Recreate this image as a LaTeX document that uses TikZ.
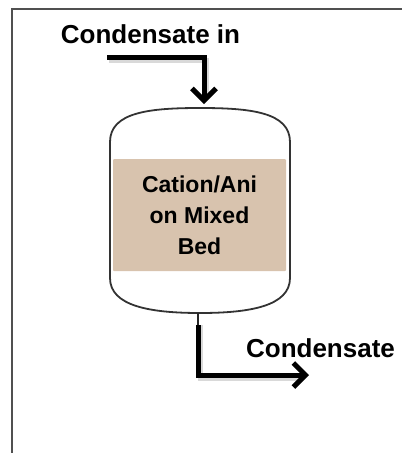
\documentclass[tikz,border=0pt]{standalone}
\usepackage{fontspec}
\setmainfont{Liberation Sans}
\usetikzlibrary{arrows.meta,calc}
\definecolor{bedtan}{RGB}{216,195,174}
\definecolor{framegray}{RGB}{80,80,80}
\begin{document}
\begin{tikzpicture}[x=1pt,y=-1pt,
  lbl/.style={font=\bfseries\fontsize{26}{30}\selectfont, inner sep=0pt, anchor=base},
  flow/.style={line width=5pt, line join=miter, -{Straight Barb[length=12pt,width=24pt]}},
  shadowline/.style={line width=5pt, draw=black, opacity=0.15, line join=miter},
  vessel/.style={draw=black!80, line width=1.8pt},
  bedbox/.style={fill=bedtan, draw=none, rounded corners=1pt, minimum width=173pt, minimum height=112pt, inner sep=0pt, align=center, font=\bfseries\fontsize{23}{31}\selectfont}
]
\useasboundingbox (0,0) rectangle (402,453);
% frame
\draw[framegray, line width=2pt] (11.5,453) -- (11.5,9) -- (402,9);
% vessel
\draw[vessel] (110,142) .. controls (110,112) and (150,108) .. (200,108)
   .. controls (250,108) and (290,112) .. (290,142)
   -- (290,278) .. controls (290,306) and (250,313) .. (200,313)
   .. controls (150,313) and (110,306) .. (110,278) -- cycle;
\coordinate (vtop) at (204,104);
\coordinate (vbot) at (198,313);
% bed
\node[bedbox] (bed) at (199.5,215) {Cation/Ani\\on Mixed\\Bed};
% labels
\node[lbl] (inlbl) at (150.5,43) {Condensate in};
\node[lbl] (outlbl) at (320.5,357) {Condensate};
% inlet
\coordinate (inA) at (107,57);
\coordinate (inB) at (204,57);
\draw[shadowline] ($(inA)+(2,3)$) -- ($(inB)+(2,3)$) -- ($(vtop)+(2,-6)$);
\draw[flow] (inA) -- (inB) -- (vtop);
% outlet
\coordinate (outA) at (198,325);
\coordinate (outB) at (198,375);
\coordinate (outC) at (309,375);
\draw[shadowline] ($(outA)+(2,0)$) -- ($(outB)+(2,3)$) -- ($(outC)+(-8,3)$);
\draw[line width=2pt, black!85] (vbot) -- (outA);
\draw[flow] (outA) -- (outB) -- (outC);
\end{tikzpicture}
\end{document}
